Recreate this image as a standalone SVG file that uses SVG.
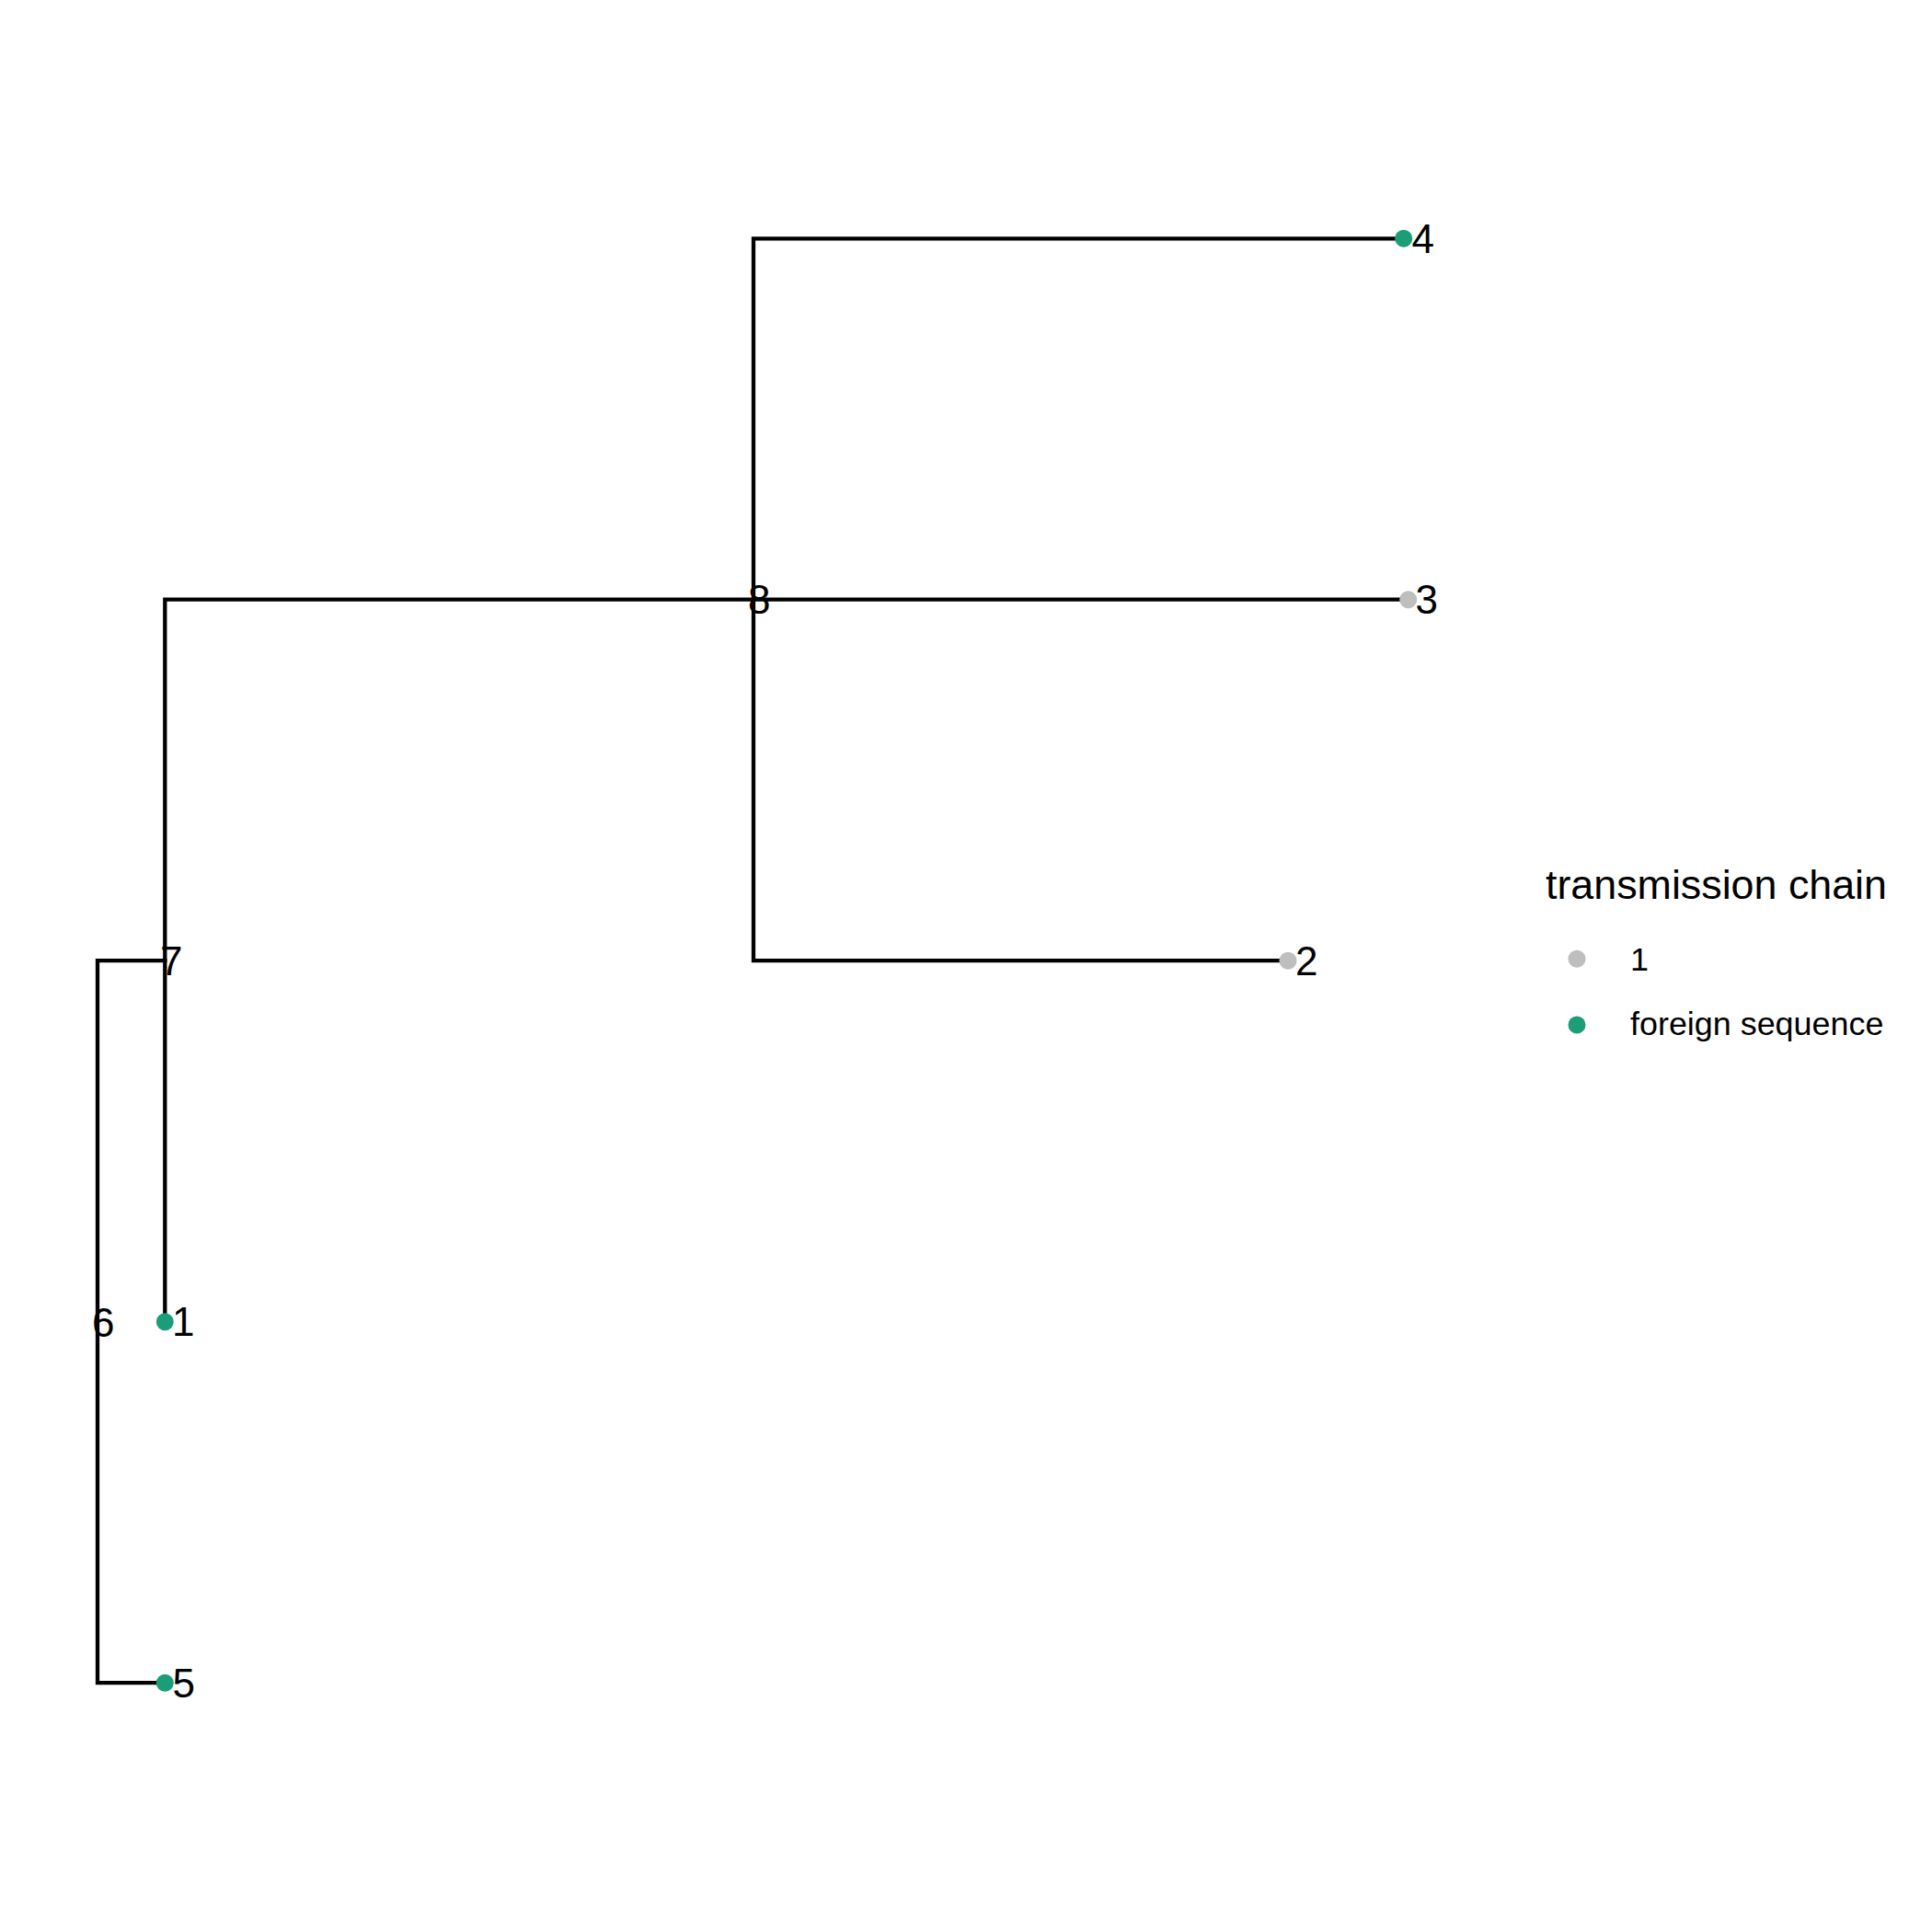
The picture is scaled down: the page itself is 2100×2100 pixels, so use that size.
<svg xmlns="http://www.w3.org/2000/svg" width="2100" height="2100" viewBox="0 0 2100 2100">
<style>
.br{fill:none;stroke:#000;stroke-width:4.3;stroke-linejoin:miter;stroke-linecap:square}
.lab{font-family:"Liberation Sans",Arial,sans-serif;font-size:44px;fill:#000}
.leg{font-family:"Liberation Sans",Arial,sans-serif;font-size:35.9px;fill:#000}
.ttl{font-family:"Liberation Sans",Arial,sans-serif;font-size:44.8px;fill:#000}
.g{fill:#BEBEBE}
.f{fill:#1B9E77}
</style>
<rect width="2100" height="2100" fill="#fff"/>
<g id="connectors">
<path class="br" d="M179.3,1044.2 H106 V1829.2 H179.3"/>
<path class="br" d="M819,651.7 H179.3 V1436.7"/>
<path class="br" d="M1525.7,259.3 H819 V1044.2 H1400"/>
<path class="br" d="M819,651.7 H1530.7"/>
</g>
<g id="node6"><text class="lab" x="100" y="1452.5">6</text></g>
<g id="node7"><text class="lab" x="174" y="1060">7</text></g>
<g id="node8"><text class="lab" x="813" y="667.3">8</text></g>
<g id="tip4"><circle class="f" cx="1525.7" cy="259.3" r="9.5"/><text class="lab" x="1534.5" y="274.9">4</text></g>
<g id="tip3"><circle class="g" cx="1530.7" cy="651.7" r="9.5"/><text class="lab" x="1538.5" y="667.3">3</text></g>
<g id="tip2"><circle class="g" cx="1400" cy="1044.2" r="9.5"/><text class="lab" x="1408" y="1059.8">2</text></g>
<g id="tip1"><circle class="f" cx="179.3" cy="1436.7" r="9.5"/><text class="lab" x="187" y="1452.3">1</text></g>
<g id="tip5"><circle class="f" cx="179.3" cy="1829.2" r="9.5"/><text class="lab" x="187.5" y="1844.8">5</text></g>
<g id="legend">
<text class="ttl" x="1680" y="977">transmission chain</text>
<circle class="g" cx="1714" cy="1042.3" r="9.5"/>
<text class="leg" x="1772" y="1055">1</text>
<circle class="f" cx="1714" cy="1114" r="9.5"/>
<text class="leg" x="1772" y="1125">foreign sequence</text>
</g>
</svg>
